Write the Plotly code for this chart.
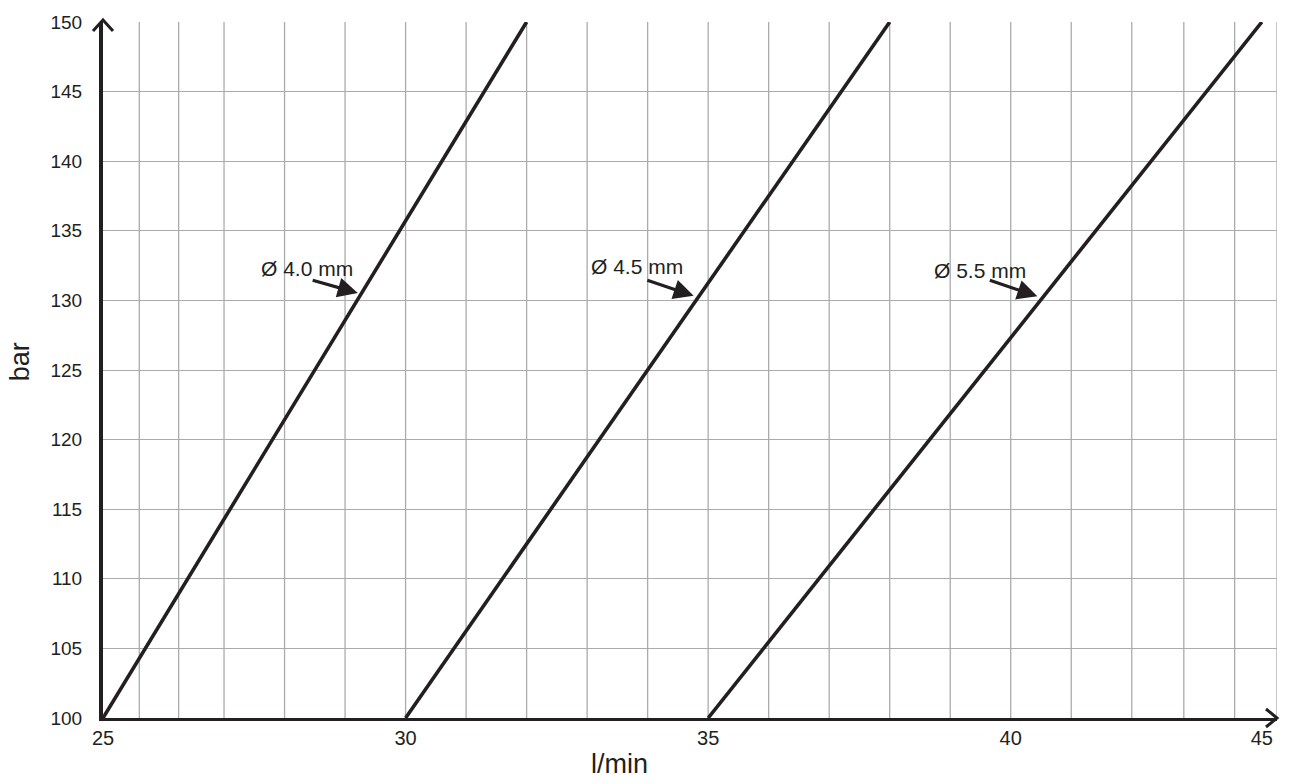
import plotly.graph_objects as go

# nozzle lines: flow (l/min) at 100 bar and at 150 bar
nozzles = ["Ø 4.0 mm", "Ø 4.5 mm", "Ø 5.5 mm"]
flow_at_100 = [25, 30, 35]
flow_at_150 = [32, 38, 44.15]
pressure = [100, 150]

# axis ticks as drawn on the sheet (the "45" sits short of the arrow end)
x_tick_vals = [25, 30, 35, 40, 44.15]
x_tick_text = ["25", "30", "35", "40", "45"]
x_grid = [25.6, 26.25, 27, 28, 29, 30, 31, 32, 33, 34, 35, 36, 37, 38, 39,
          40, 41, 42, 42.86, 43.7, 44.4]

INK = "#231f20"
GRID = "#ababab"
FONT = "Liberation Sans, Arial, sans-serif"

fig = go.Figure()

for name, x0, x1 in zip(nozzles, flow_at_100, flow_at_150):
    fig.add_trace(go.Scatter(
        x=[x0, x1], y=pressure, mode="lines", name=name,
        line=dict(color=INK, width=3.6),
        showlegend=False, hoverinfo="skip",
    ))

# vertical grid, irregular like the original sheet
for gx in x_grid:
    fig.add_vline(x=gx, line=dict(color=GRID, width=1.3), layer="below")

# label + arrow for each line (text position, arrow tail, arrow tip)
labels = [
    ((28.375, 132.3), (28.44, 131.48), (29.21, 130.53)),
    ((33.83, 132.45), (33.97, 131.48), (34.76, 130.33)),
    ((39.50, 132.13), (39.63, 131.48), (40.44, 130.29)),
]
for name, (txt, tail, tip) in zip(nozzles, labels):
    fig.add_annotation(x=txt[0], y=txt[1], text=name, showarrow=False,
                       font=dict(size=21, color=INK, family=FONT))
    fig.add_annotation(x=tip[0], y=tip[1], ax=tail[0], ay=tail[1],
                       axref="x", ayref="y", text="", showarrow=True,
                       arrowhead=2, arrowsize=1.25, arrowwidth=3.2,
                       arrowcolor=INK, standoff=0)

# open arrow heads on the axes
fig.add_shape(type="path", xref="x domain", yref="y domain",
              xsizemode="pixel", ysizemode="pixel", xanchor=0, yanchor=1,
              path="M -10,-9 L 0,2 L 10,-9", line=dict(color=INK, width=3))
fig.add_shape(type="path", xref="x domain", yref="y domain",
              xsizemode="pixel", ysizemode="pixel", xanchor=1, yanchor=0,
              path="M -11,9 L 0,0 L -11,-9", line=dict(color=INK, width=3))

# axis titles
fig.add_annotation(xref="paper", yref="paper", x=0.44, y=-0.066,
                   text="l/min", showarrow=False, xanchor="center",
                   yanchor="middle",
                   font=dict(size=27, color=INK, family=FONT))
fig.add_annotation(xref="paper", yref="paper", x=-0.071, y=0.512,
                   text="bar", showarrow=False, textangle=-90,
                   xanchor="center", yanchor="middle",
                   font=dict(size=27, color=INK, family=FONT))

fig.update_layout(
    width=1290, height=784,
    margin=dict(l=103, r=13, t=17, b=66),
    plot_bgcolor="white", paper_bgcolor="white",
    font=dict(family=FONT, color=INK, size=19),
    showlegend=False,
)
fig.update_xaxes(
    range=[25, 44.4], tickmode="array", tickvals=x_tick_vals,
    ticktext=x_tick_text, showgrid=False, zeroline=False,
    showline=True, linecolor=INK, linewidth=3, ticks="",
    ticklabelstandoff=0, tickfont=dict(size=20),
)
fig.update_yaxes(
    range=[100, 150], dtick=5, tick0=100, showgrid=True,
    gridcolor=GRID, gridwidth=1.3, zeroline=False,
    showline=True, linecolor=INK, linewidth=4, ticks="",
    ticklabelstandoff=13, tickfont=dict(size=19),
)

fig.write_html(
    "out.html",
    config={"displayModeBar": False},
    post_script="document.body.style.margin='0';"
                "document.body.style.overflow='hidden';",
)
